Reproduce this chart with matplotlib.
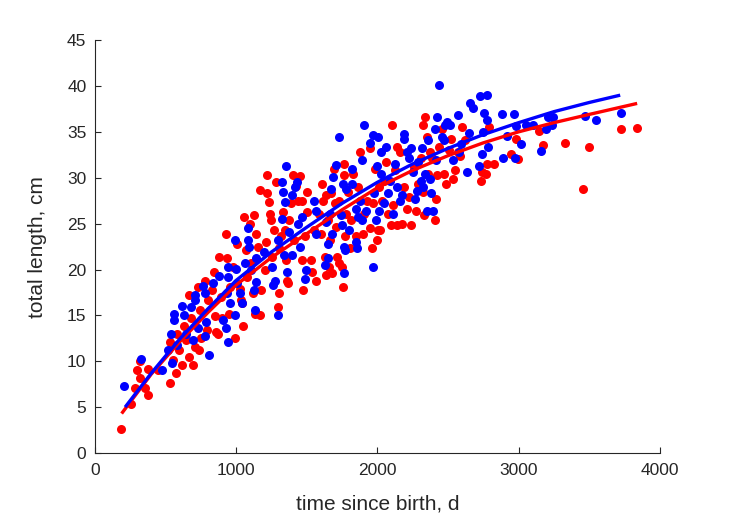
import numpy as np
import matplotlib
matplotlib.use('Agg')
import matplotlib.pyplot as plt

plt.rcParams['font.family'] = ['Liberation Sans', 'DejaVu Sans']

# red group: time since birth (d), total length (cm)
t_red = [187, 253, 286, 302, 319, 319, 358, 378, 378, 450, 532, 532, 555, 575, 582, 598, 615, 631, 647, 664,
         664, 680, 697, 707, 730, 740, 746, 753, 779, 795, 805, 828, 845, 851, 861, 871, 878, 894, 904, 927,
         937, 950, 960, 976, 993, 1009, 1025, 1035, 1042, 1048, 1058, 1068, 1075, 1101, 1108, 1118, 1124, 1134, 1141, 1157,
         1167, 1173, 1180, 1206, 1213, 1222, 1222, 1232, 1239, 1245, 1256, 1272, 1282, 1298, 1305, 1305, 1321, 1331, 1344, 1354,
         1364, 1371, 1377, 1390, 1403, 1410, 1423, 1436, 1453, 1466, 1469, 1476, 1486, 1502, 1502, 1528, 1535, 1551, 1568, 1584,
         1601, 1607, 1617, 1627, 1634, 1640, 1650, 1660, 1666, 1673, 1683, 1693, 1699, 1706, 1716, 1726, 1732, 1749, 1758, 1765,
         1765, 1772, 1781, 1791, 1804, 1814, 1831, 1847, 1864, 1880, 1896, 1906, 1929, 1946, 1952, 1962, 1972, 1982, 1995, 2002,
         2012, 2021, 2035, 2045, 2061, 2077, 2094, 2104, 2110, 2127, 2143, 2143, 2160, 2176, 2192, 2209, 2225, 2242, 2258, 2275,
         2291, 2307, 2324, 2324, 2334, 2340, 2350, 2357, 2373, 2389, 2406, 2416, 2422, 2439, 2455, 2472, 2488, 2505, 2521, 2537,
         2547, 2570, 2587, 2603, 2620, 2735, 2744, 2767, 2777, 2790, 2823, 2948, 2981, 2998, 3146, 3172, 3327, 3459, 3497, 3727,
         3836]
L_red = [2.6, 5.3, 7.1, 9.1, 10.0, 8.2, 7.1, 6.3, 9.2, 9.1, 7.6, 12.1, 10.1, 8.7, 13.0, 11.2, 9.6, 13.8, 12.3, 10.5,
         17.2, 14.7, 9.6, 11.6, 18.1, 11.2, 15.6, 12.5, 18.7, 13.4, 16.7, 17.8, 19.7, 14.9, 13.2, 13.0, 21.4, 17.0, 14.7, 23.9,
         21.2, 15.2, 18.1, 20.3, 12.5, 22.8, 17.9, 16.7, 16.3, 13.8, 25.7, 22.1, 19.2, 25.0, 20.7, 17.4, 25.9, 15.2, 23.9, 22.5,
         28.7, 15.0, 17.8, 19.9, 23.0, 30.3, 28.3, 27.4, 26.1, 25.4, 21.4, 24.3, 29.5, 15.9, 17.4, 22.3, 23.6, 26.3, 24.3, 21.0,
         18.8, 18.5, 25.4, 27.2, 30.3, 23.2, 29.1, 27.5, 30.2, 21.0, 27.5, 17.8, 23.6, 26.3, 28.4, 21.0, 19.7, 24.3, 18.7, 26.1,
         23.9, 29.3, 27.5, 21.4, 19.4, 28.1, 25.4, 20.3, 23.2, 28.3, 19.6, 31.0, 27.2, 24.6, 21.4, 27.5, 20.7, 20.3, 18.1, 31.5,
         30.3, 23.6, 26.1, 28.4, 22.3, 25.4, 30.4, 23.7, 29.0, 32.8, 23.9, 26.1, 27.5, 24.5, 33.2, 22.3, 27.2, 31.0, 23.2, 24.3,
         29.0, 24.3, 27.5, 29.7, 31.7, 26.1, 24.8, 35.8, 27.0, 30.8, 33.4, 24.8, 32.8, 25.0, 29.0, 26.6, 27.9, 24.8, 31.2, 26.4,
         29.3, 32.1, 28.4, 35.8, 25.9, 36.6, 34.4, 30.4, 32.8, 32.1, 25.4, 27.7, 30.3, 33.3, 35.3, 30.4, 29.3, 33.0, 34.2, 29.9,
         30.8, 32.8, 32.4, 35.5, 34.1, 29.7, 30.6, 30.4, 31.5, 35.5, 31.5, 32.6, 34.2, 32.0, 35.1, 33.6, 33.8, 28.8, 33.4, 35.3,
         35.4]

# blue group
t_blue = [210, 329, 473, 516, 539, 559, 559, 549, 582, 621, 631, 647, 680, 707, 713, 697, 730, 769, 779, 789,
          779, 812, 838, 878, 910, 927, 943, 943, 943, 937, 960, 993, 993, 1003, 1009, 1025, 1042, 1065, 1085, 1085,
          1091, 1108, 1124, 1134, 1141, 1141, 1200, 1256, 1265, 1279, 1298, 1298, 1325, 1331, 1325, 1338, 1348, 1351, 1364, 1377,
          1397, 1397, 1420, 1430, 1436, 1453, 1469, 1486, 1496, 1551, 1568, 1568, 1627, 1634, 1650, 1650, 1666, 1673, 1683, 1690,
          1709, 1726, 1742, 1749, 1758, 1765, 1765, 1772, 1781, 1798, 1824, 1824, 1847, 1847, 1857, 1864, 1880, 1890, 1890, 1906,
          1923, 1946, 1972, 1972, 1979, 1989, 1995, 2002, 2012, 2028, 2028, 2045, 2061, 2077, 2087, 2110, 2127, 2143, 2160, 2176,
          2192, 2192, 2209, 2225, 2242, 2251, 2268, 2278, 2291, 2307, 2317, 2324, 2340, 2350, 2357, 2373, 2383, 2396, 2406, 2416,
          2422, 2439, 2455, 2472, 2482, 2495, 2515, 2537, 2570, 2580, 2593, 2636, 2646, 2659, 2679, 2718, 2724, 2744, 2751, 2757,
          2774, 2777, 2784, 2882, 2889, 2922, 2965, 2975, 2981, 3021, 3054, 3106, 3162, 3195, 3211, 3238, 3244, 3474, 3550, 3727]
L_blue = [7.3, 10.3, 9.1, 11.2, 13.0, 15.1, 14.5, 9.8, 11.8, 16.0, 15.0, 13.0, 15.9, 17.2, 16.7, 12.3, 13.6, 18.2, 17.4, 14.3,
          12.7, 10.7, 18.5, 19.3, 14.5, 13.6, 12.1, 20.3, 19.2, 17.4, 16.3, 23.2, 15.0, 20.1, 18.5, 17.4, 16.3, 20.7, 24.5, 23.2,
          22.5, 19.9, 17.8, 15.6, 21.2, 18.6, 21.9, 20.3, 18.3, 18.8, 15.0, 23.2, 29.5, 28.4, 25.5, 21.6, 27.4, 31.3, 19.7, 24.1,
          21.6, 28.1, 29.0, 29.5, 25.0, 22.5, 25.7, 19.0, 19.9, 27.5, 26.4, 23.9, 20.5, 25.2, 22.8, 21.2, 26.1, 28.8, 23.9, 30.1,
          31.4, 34.4, 25.9, 24.8, 29.3, 19.6, 22.5, 22.1, 28.8, 24.3, 31.0, 29.3, 26.6, 23.0, 22.3, 25.7, 27.5, 25.4, 31.9, 35.8,
          26.4, 33.8, 20.3, 34.7, 28.3, 25.4, 31.3, 34.4, 26.4, 32.8, 30.4, 27.2, 33.4, 28.3, 29.7, 26.1, 31.5, 29.0, 27.5, 28.1,
          34.8, 34.2, 32.8, 32.1, 33.2, 30.6, 27.7, 28.6, 31.7, 29.7, 33.2, 29.0, 30.4, 26.4, 34.1, 29.9, 28.3, 26.4, 35.3, 31.9,
          36.6, 40.1, 34.4, 34.1, 35.8, 36.1, 35.7, 31.9, 36.8, 32.8, 33.7, 30.6, 34.9, 38.2, 37.6, 31.3, 38.9, 32.6, 35.0, 37.1,
          39.0, 36.3, 33.3, 37.0, 32.2, 34.5, 37.0, 32.2, 35.6, 33.7, 35.7, 35.7, 32.9, 35.3, 36.6, 35.8, 36.6, 36.7, 36.3, 37.1]

# fitted growth curves
t_fit_red = [190, 400, 600, 800, 1000, 1250, 1500, 1750, 2000, 2250, 2500, 2750, 3000, 3250, 3500, 3840]
L_fit_red = [4.3, 8.6, 12.1, 15.3, 18.3, 21.3, 23.9, 26.5, 28.9, 30.8, 32.4, 33.8, 35.0, 36.0, 36.9, 38.1]
t_fit_blue = [215, 400, 600, 800, 1000, 1250, 1500, 1750, 2000, 2250, 2500, 2750, 3000, 3250, 3500, 3720]
L_fit_blue = [5.0, 8.7, 12.4, 15.7, 18.8, 21.9, 24.6, 27.2, 29.5, 31.5, 33.2, 34.7, 36.0, 37.2, 38.2, 39.0]

fig = plt.figure(figsize=(7.29, 5.21), dpi=100)
ax = fig.add_axes([0.130, 0.1305, 0.775, 0.7925])

ax.plot(t_red, L_red, 'o', color='r', markersize=6.5, markeredgewidth=0)
ax.plot(t_blue, L_blue, 'o', color='b', markersize=6.5, markeredgewidth=0)
ax.plot(t_fit_red, L_fit_red, '-', color='r', linewidth=2.4, solid_capstyle='butt')
ax.plot(t_fit_blue, L_fit_blue, '-', color='b', linewidth=2.4, solid_capstyle='butt')

ax.set_xlim(0, 4000)
ax.set_ylim(0, 45)
ax.set_xticks([0, 1000, 2000, 3000, 4000])
ax.set_yticks(range(0, 46, 5))

grey = '#262626'
for s in ['top', 'right']:
    ax.spines[s].set_visible(False)
for s in ['left', 'bottom']:
    ax.spines[s].set_color(grey)
    ax.spines[s].set_linewidth(0.8)
ax.tick_params(direction='in', length=4, width=0.8, colors=grey, labelsize=12.5)
ax.tick_params(axis='x', pad=7)
ax.tick_params(axis='y', pad=6)

ax.set_xlabel('time since birth, d', fontsize=15, color=grey, labelpad=12)
ax.set_ylabel('total length, cm', fontsize=15, color=grey, labelpad=14)

plt.savefig('out.png', dpi=100)
